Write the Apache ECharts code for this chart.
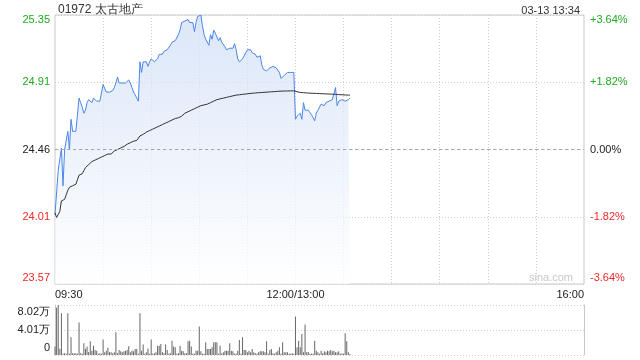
<!DOCTYPE html>
<html>
<head>
<meta charset="utf-8">
<script src="https://cdn.jsdelivr.net/npm/echarts@6/dist/echarts.min.js"></script>
<style>
html,body{margin:0;padding:0;background:#fff;}
#chart{width:640px;height:360px;}
</style>
</head>
<body>
<div id="chart"></div>
<script>
// ---- data ----
var stockTitle = '01972 太古地产';
var timeStamp = '03-13 13:34';
var prevClose = 24.46;
var priceMin = 23.57;
var priceMax = 25.35;
var priceStep = 0.445;
var priceLabels = ['23.57', '24.01', '24.46', '24.91', '25.35'];
var pctLabels = ['-3.64%', '-1.82%', '0.00%', '+1.82%', '+3.64%'];
var volMax = 80200;
var volStep = 40100;
var volLabels = ['0', '4.01万', '8.02万'];
var xTickIndex = [0, 150, 330];
var xTickLabels = ['09:30', '12:00/13:00', '16:00'];
var totalMinutes = 330;

var price = [
24.03,24.04,24.32,24.32,24.47,24.22,24.46,24.46,24.58,24.46,
24.66,24.58,24.58,24.58,24.58,24.80,24.77,24.74,24.70,24.72,
24.77,24.79,24.80,24.77,24.80,24.79,24.78,24.78,24.78,24.78,
24.89,24.88,24.84,24.84,24.84,24.85,24.85,24.87,24.90,24.94,
24.90,24.90,24.90,24.90,24.90,24.91,24.92,24.90,24.87,24.84,
24.83,24.80,24.78,25.04,24.97,25.04,25.04,25.04,25.01,25.04,
25.06,25.05,25.04,25.05,25.06,25.09,25.10,25.09,25.11,25.10,
25.12,25.12,25.15,25.17,25.18,25.18,25.18,25.22,25.25,25.30,
25.31,25.31,25.30,25.32,25.30,25.30,25.30,25.24,25.30,25.34,
25.35,25.35,25.28,25.22,25.19,25.20,25.15,25.22,25.19,25.25,
25.23,25.22,25.18,25.20,25.17,25.17,25.14,25.12,25.13,25.13,
25.13,25.13,25.16,25.12,25.06,25.04,25.05,25.06,25.07,25.10,
25.12,25.11,25.12,25.10,25.11,25.09,25.07,25.06,25.08,25.02,
24.99,24.98,24.98,24.98,25.00,25.01,25.01,25.02,25.00,25.01,
24.97,24.93,24.93,24.95,24.96,24.97,24.97,24.97,24.98,24.97,
24.66,24.68,24.67,24.70,24.66,24.77,24.72,24.73,24.72,24.72,
24.69,24.70,24.65,24.70,24.72,24.73,24.76,24.76,24.75,24.77,
24.77,24.78,24.77,24.79,24.78,24.87,24.75,24.78,24.79,24.79,
24.78,24.78,24.77,24.79,24.80
];

var avgPrice = [
24.040,24.010,24.030,24.050,24.120,24.130,24.130,24.160,24.190,24.210,
24.220,24.220,24.230,24.230,24.260,24.290,24.290,24.300,24.320,24.340,
24.350,24.360,24.370,24.380,24.380,24.390,24.395,24.400,24.400,24.410,
24.410,24.420,24.420,24.430,24.430,24.430,24.430,24.450,24.460,24.460,
24.465,24.470,24.475,24.480,24.490,24.495,24.500,24.505,24.510,24.515,
24.515,24.520,24.520,24.550,24.555,24.560,24.570,24.575,24.580,24.585,
24.590,24.595,24.600,24.605,24.610,24.615,24.620,24.625,24.630,24.635,
24.640,24.645,24.650,24.655,24.660,24.665,24.670,24.670,24.675,24.680,
24.690,24.700,24.705,24.710,24.715,24.720,24.725,24.730,24.735,24.740,
24.745,24.750,24.750,24.755,24.760,24.760,24.765,24.770,24.775,24.780,
24.785,24.790,24.790,24.795,24.800,24.800,24.805,24.805,24.810,24.810,
24.815,24.815,24.820,24.820,24.820,24.822,24.824,24.825,24.826,24.827,
24.828,24.830,24.830,24.832,24.833,24.834,24.835,24.836,24.836,24.837,
24.838,24.839,24.840,24.840,24.841,24.842,24.843,24.843,24.844,24.845,
24.845,24.846,24.846,24.847,24.847,24.847,24.848,24.848,24.848,24.848,
24.845,24.842,24.840,24.838,24.837,24.836,24.835,24.834,24.834,24.833,
24.832,24.832,24.831,24.831,24.830,24.830,24.830,24.829,24.829,24.828,
24.828,24.827,24.827,24.826,24.826,24.825,24.824,24.823,24.822,24.822,
24.821,24.821,24.820,24.820,24.820
];

var volume = [
13600,75700,80000,10000,67000,2000,2700,2000,67000,2000,
28500,2700,2700,2700,1900,52000,2700,1900,19000,10000,
13600,5000,22000,7000,15000,8000,7000,1900,2700,2000,
24800,4300,7000,11500,4300,4300,2700,4300,36600,2700,
8000,5900,4300,5900,7000,8000,14000,4300,7000,5900,
9600,9600,1900,67000,7000,17000,1900,4300,10500,1900,
24800,1900,2700,4300,15000,15000,17600,4300,2700,17000,
8000,1900,2700,22700,13600,12300,1900,2700,15000,7000,
5900,2700,2700,22000,22700,13600,1900,1900,7000,7000,
45700,5900,1900,1900,20300,9600,9600,9600,12300,20300,
20300,20300,1900,15000,2700,4300,7000,7000,7000,19000,
7000,5900,1900,1900,7000,24000,1900,28500,8000,8000,
4300,7000,4300,9600,4300,2700,1900,4300,5900,5900,
5900,4300,22000,1900,8000,9600,2700,1900,4300,7000,
12300,1900,20300,4300,4300,4300,1900,1900,3000,1900,
61700,12300,22700,12300,33800,4300,49000,4300,5000,1900,
1900,1900,22700,7000,4300,1900,7000,2700,5900,4300,
7000,5900,8000,5900,7000,4300,4300,5900,1900,2700,
1900,35000,22000,4300,1500
];

// ---- chart ----
var categories = [];
for (var i = 0; i <= totalMinutes; i++) categories.push(i);

var GREEN = '#1fa81f', RED = '#f02828', TXT = '#222';
var FONT = 'Liberation Sans, Arial, sans-serif';

function edgeRich(color) {
  return {
    t: {color: color, padding: [10, 0, 0, 0], fontSize: 11, fontFamily: FONT},
    b: {color: color, padding: [0, 0, 12, 0], fontSize: 11, fontFamily: FONT},
    m: {color: color, fontSize: 11, fontFamily: FONT}
  };
}
var priceRich = {
  tg: {color: GREEN, padding: [10, 0, 0, 0], fontSize: 11, fontFamily: FONT},
  g: {color: GREEN, fontSize: 11, fontFamily: FONT},
  k: {color: TXT, fontSize: 11, fontFamily: FONT},
  r: {color: RED, fontSize: 11, fontFamily: FONT},
  br: {color: RED, padding: [0, 0, 12, 0], fontSize: 11, fontFamily: FONT}
};
var styleKeys = ['br', 'r', 'k', 'g', 'tg'];

function idxOf(v, min, step) { return Math.round((v - min) / step); }

var chart = echarts.init(document.getElementById('chart'), null, {renderer: 'canvas'});
var dotted = {color: '#cfcfcf', type: [1, 2], width: 1};

chart.setOption({
  animation: false,
  backgroundColor: '#fff',
  textStyle: {fontFamily: FONT},
  title: [
    {text: stockTitle, left: 53, top: -1,
     textStyle: {fontSize: 12, fontWeight: 'normal', color: '#333', fontFamily: FONT}},
    {text: timeStamp, right: 55, top: 0,
     textStyle: {fontSize: 11, fontWeight: 'normal', color: '#333', fontFamily: FONT}}
  ],
  grid: [
    {left: 55, right: 56, top: 15, height: 269, show: true, borderColor: '#c8c8c8', borderWidth: 1, backgroundColor: '#fff'},
    {left: 55, right: 56, top: 305, height: 50, show: false}
  ],
  xAxis: [
    {
      type: 'category', gridIndex: 0, data: categories, boundaryGap: false,
      axisLine: {show: false}, axisTick: {show: false},
      axisLabel: {
        show: true, margin: 5, color: '#222', fontSize: 11, fontFamily: FONT,
        interval: function (index) { return xTickIndex.indexOf(index) >= 0; },
        formatter: function (v, index) {
          var k = xTickIndex.indexOf(Number(v));
          return k >= 0 ? xTickLabels[k] : '';
        },
        alignMinLabel: 'left', alignMaxLabel: 'right'
      },
      splitLine: {
        show: true, lineStyle: dotted,
        interval: function (index) { return index % 30 === 0 && index !== 0 && index !== totalMinutes; }
      }
    },
    {
      type: 'category', gridIndex: 1, data: categories, boundaryGap: false,
      axisLine: {show: false}, axisTick: {show: false}, axisLabel: {show: false},
      splitLine: {show: false}
    }
  ],
  yAxis: [
    {
      type: 'value', gridIndex: 0, position: 'left', min: priceMin, max: priceMax, interval: priceStep,
      axisLine: {show: false}, axisTick: {show: false},
      axisLabel: {
        margin: 5, rich: priceRich,
        formatter: function (v) {
          var k = idxOf(v, priceMin, priceStep);
          return '{' + styleKeys[k] + '|' + priceLabels[k] + '}';
        }
      },
      splitLine: {show: true, lineStyle: dotted}
    },
    {
      type: 'value', gridIndex: 0, position: 'right', min: priceMin, max: priceMax, interval: priceStep,
      axisLine: {show: false}, axisTick: {show: false},
      axisLabel: {
        margin: 6, rich: priceRich,
        formatter: function (v) {
          var k = idxOf(v, priceMin, priceStep);
          return '{' + styleKeys[k] + '|' + pctLabels[k] + '}';
        }
      },
      splitLine: {show: false}
    },
    {
      type: 'value', gridIndex: 1, position: 'left', min: 0, max: volMax, interval: volStep,
      axisLine: {show: true, lineStyle: {color: '#c8c8c8'}}, axisTick: {show: false},
      axisLabel: {
        margin: 5,
        rich: {
          t: {color: TXT, padding: [14, 0, 0, 0], fontSize: 11, fontFamily: FONT},
          m: {color: TXT, fontSize: 11, fontFamily: FONT},
          b: {color: TXT, padding: [0, 0, 14, 0], fontSize: 11, fontFamily: FONT}
        },
        formatter: function (v) {
          var k = idxOf(v, 0, volStep);
          var key = k === 0 ? 'b' : (k === volLabels.length - 1 ? 't' : 'm');
          return '{' + key + '|' + volLabels[k] + '}';
        }
      },
      splitLine: {show: true, lineStyle: dotted}
    },
    {
      type: 'value', gridIndex: 1, position: 'right', min: 0, max: volMax, interval: volStep,
      axisLine: {show: true, lineStyle: {color: '#c8c8c8'}}, axisTick: {show: false},
      axisLabel: {show: false}, splitLine: {show: false}
    }
  ],
  graphic: [
    {type: 'text', right: 67, top: 272, z: 1,
     style: {text: 'sina.com', fill: '#c8c8c8', fontSize: 11, fontFamily: FONT}}
  ],
  series: [
    {
      name: 'price', type: 'line', xAxisIndex: 0, yAxisIndex: 0, data: price,
      symbol: 'none', smooth: false,
      lineStyle: {color: '#4a86e8', width: 1},
      areaStyle: {
        origin: 'start',
        color: new echarts.graphic.LinearGradient(0, 15, 0, 284, [
          {offset: 0, color: '#cddcf6'},
          {offset: 1, color: '#ffffff'}
        ], true)
      },
      markLine: {
        silent: true, symbol: 'none', label: {show: false},
        lineStyle: {color: '#a8a8a8', type: [3, 3], width: 1},
        data: [{yAxis: prevClose}]
      },
      z: 3
    },
    {
      name: 'avg', type: 'line', xAxisIndex: 0, yAxisIndex: 0, data: avgPrice,
      symbol: 'none', lineStyle: {color: '#333333', width: 1}, z: 4
    },
    {
      name: 'volume', type: 'bar', xAxisIndex: 1, yAxisIndex: 2, data: volume,
      barWidth: 1, itemStyle: {color: '#666666'}
    }
  ]
});
</script>
</body>
</html>
